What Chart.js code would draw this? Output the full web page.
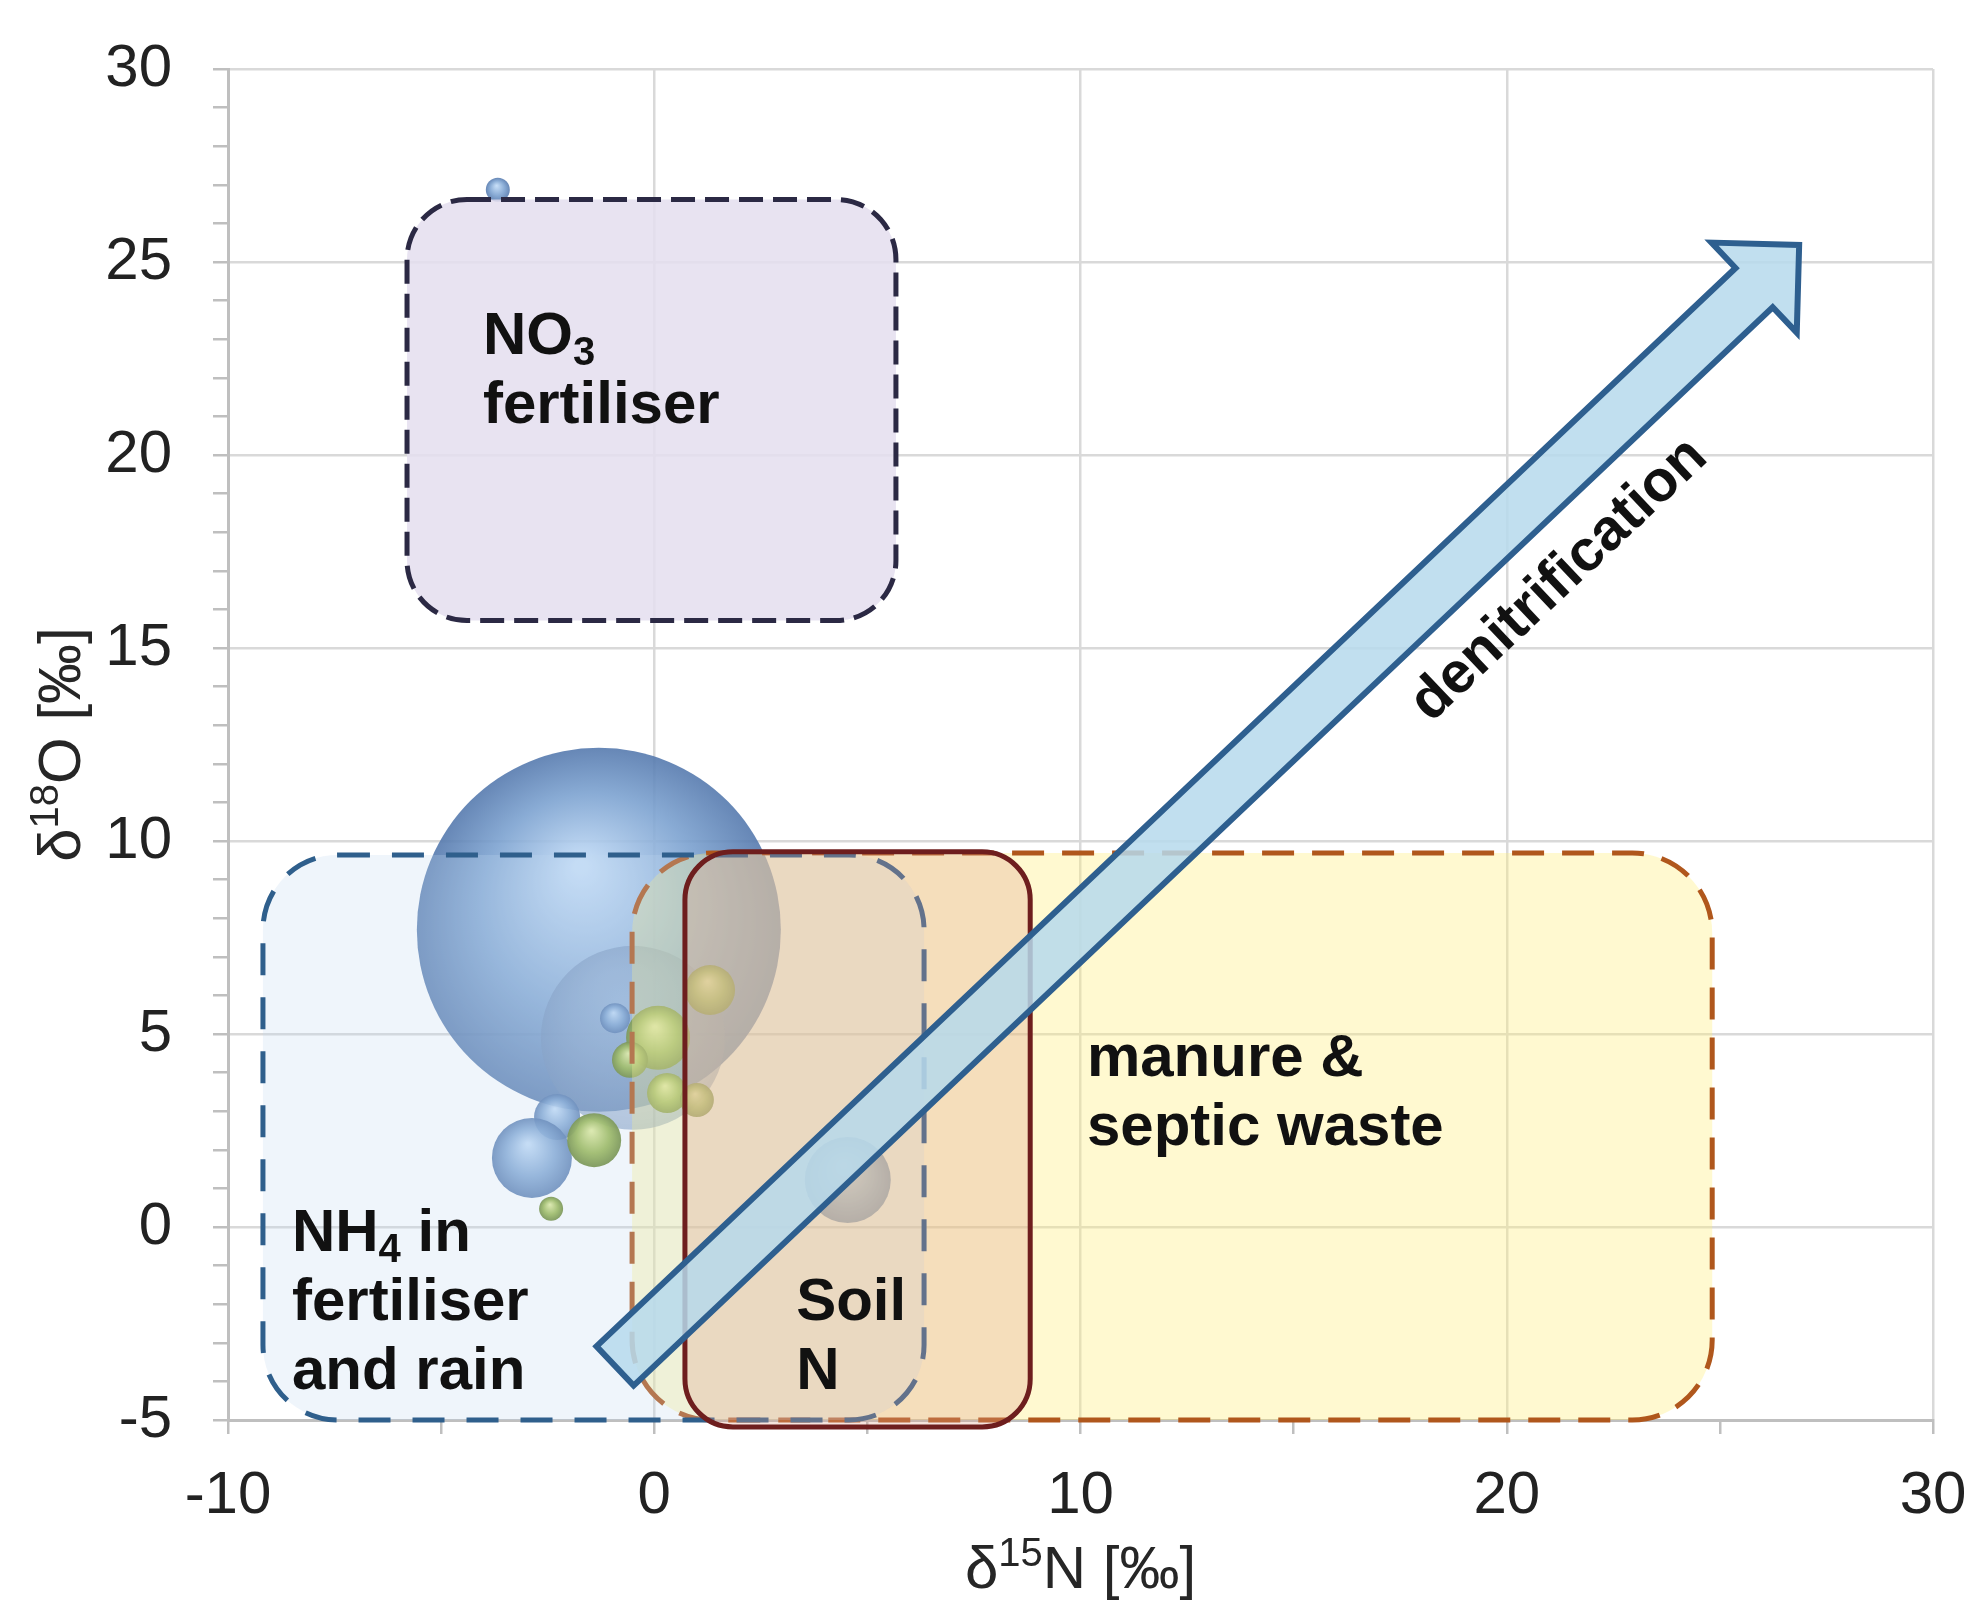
<!DOCTYPE html>
<html>
<head>
<meta charset="utf-8">
<script src="https://cdn.jsdelivr.net/npm/chart.js@4.4.1/dist/chart.umd.min.js"></script>
<style>
  html, body { margin: 0; padding: 0; background: #fff; }
  #wrap { width: 1972px; height: 1600px; }
</style>
</head>
<body>
<div id="wrap"><canvas id="myChart"></canvas></div>
<script>
const FONT = '"Liberation Sans", Arial, sans-serif';

// axis ranges
const xMin = -10, xMax = 30;
const yMin = -5, yMax = 30;

// blue bubbles (d15N, d18O, radius px)
const blueX = [-1.3, -0.5, -2.28, -2.87, -0.92, 4.54, -3.67];
const blueY = [7.7, 4.9, 2.85, 1.79, 5.41, 1.22, 26.87];
const blueR = [182, 92, 23, 40, 15, 43, 12];
const paleBlue = [1];   // the washed-out one

// green bubbles
const greenX = [-1.41, -2.42, 0.09, -0.57, 0.30, 1.31, 1.0];
const greenY = [2.25, 0.47, 4.9, 4.33, 3.47, 6.14, 3.29];
const greenR = [27, 12, 32, 18, 20, 25, 17];

// source areas (data units)
const boxNames = ['NO_3|fertiliser', 'manure &|septic waste', 'NH_4 in|fertiliser|and rain', 'Soil|N'];
const boxX1 = [-5.80, -0.52, -9.18, 0.72];
const boxX2 = [5.67, 24.82, 6.33, 8.82];
const boxY1 = [15.71, -5.0, -5.0, -5.18];
const boxY2 = [26.62, 9.69, 9.64, 9.72];

// styling of the areas, same order
const boxStyle = [
  { fill: 'rgba(228,222,238,0.85)', stroke: '#2b2944', dash: [24, 10], width: 5, radius: 60, label: [-4.02, 22.62] },
  { fill: 'rgba(255,238,120,0.35)', stroke: '#b0571c', dash: [32, 18], width: 5, radius: 80, label: [10.15, 3.91] },
  { fill: 'rgba(190,215,240,0.25)', stroke: '#2f5f8c', dash: [32, 22], width: 5, radius: 75, label: [-8.5, -0.62] },
  { fill: 'rgba(222,160,140,0.3)', stroke: '#6e1e1e', dash: [], width: 5, radius: 48, label: [3.33, -2.41] }
];

const arrowFrom = [-0.92, -3.60];
const arrowTo = [26.86, 25.44];
const arrowText = 'denitrification';
const arrowTextAt = [21.23, 16.76];

function toPoints(xs, ys, rs) {
  return xs.map((v, i) => ({ x: v, y: ys[i], r: rs[i] }));
}

function ball(stops, pale, paleIdx) {
  return function (c) {
    const s = paleIdx.includes(c.dataIndex) ? pale : stops;
    if (c.type !== 'data' || !c.raw) return s[1];
    const ch = c.chart;
    const px = ch.scales.x ? ch.scales.x.getPixelForValue(c.raw.x) : NaN;
    const py = ch.scales.y ? ch.scales.y.getPixelForValue(c.raw.y) : NaN;
    const r = c.raw.r;
    if (!isFinite(px) || !isFinite(py) || !isFinite(r)) return s[1];
    const g = ch.ctx.createRadialGradient(px - r * 0.1, py - r * 0.35, r * 0.03, px, py, r);
    g.addColorStop(0, s[0]);
    g.addColorStop(0.6, s[1]);
    g.addColorStop(1, s[2]);
    return g;
  };
}

function roundBox(ctx, x1, y1, x2, y2, r) {
  r = Math.min(r, (x2 - x1) / 2, (y2 - y1) / 2);
  ctx.beginPath();
  ctx.moveTo(x1 + r, y1);
  ctx.lineTo(x2 - r, y1);
  ctx.arcTo(x2, y1, x2, y1 + r, r);
  ctx.lineTo(x2, y2 - r);
  ctx.arcTo(x2, y2, x2 - r, y2, r);
  ctx.lineTo(x1 + r, y2);
  ctx.arcTo(x1, y2, x1, y2 - r, r);
  ctx.lineTo(x1, y1 + r);
  ctx.arcTo(x1, y1, x1 + r, y1, r);
  ctx.closePath();
}

// text with _n subscripts or ^nn superscripts
function richText(ctx, str, x, y, size, weight, align) {
  const parts = str.split(/([_^]\d+)/).filter(p => p.length);
  const big = weight + ' ' + size + 'px ' + FONT;
  const small = weight + ' ' + Math.round(size * 0.66) + 'px ' + FONT;
  let w = 0;
  parts.forEach(p => {
    const sc = p[0] === '_' || p[0] === '^';
    ctx.font = sc ? small : big;
    w += ctx.measureText(sc ? p.slice(1) : p).width;
  });
  let cx = align === 'center' ? x - w / 2 : x;
  ctx.textAlign = 'left';
  ctx.textBaseline = 'alphabetic';
  parts.forEach(p => {
    let t = p, dy = 0;
    if (p[0] === '_') { t = p.slice(1); dy = size * 0.19; ctx.font = small; }
    else if (p[0] === '^') { t = p.slice(1); dy = -size * 0.36; ctx.font = small; }
    else ctx.font = big;
    ctx.fillText(t, cx, y + dy);
    cx += ctx.measureText(t).width;
  });
}

const overlay = {
  id: 'overlay',
  afterDatasetsDraw(chart) {
    const { ctx, scales: { x, y } } = chart;
    ctx.save();
    // areas: NO3, manure, NH4, soil
    boxNames.forEach((n, i) => {
      const st = boxStyle[i];
      const x1 = x.getPixelForValue(boxX1[i]), x2 = x.getPixelForValue(boxX2[i]);
      const y1 = y.getPixelForValue(boxY2[i]), y2 = y.getPixelForValue(boxY1[i]);
      roundBox(ctx, x1, y1, x2, y2, st.radius);
      ctx.fillStyle = st.fill;
      ctx.fill();
      ctx.setLineDash(st.dash);
      ctx.lineWidth = st.width;
      ctx.strokeStyle = st.stroke;
      ctx.stroke();
    });
    ctx.setLineDash([]);

    // denitrification arrow
    const tx = x.getPixelForValue(arrowFrom[0]), ty = y.getPixelForValue(arrowFrom[1]);
    const px = x.getPixelForValue(arrowTo[0]), py = y.getPixelForValue(arrowTo[1]);
    const len = Math.hypot(px - tx, py - ty);
    const ux = (px - tx) / len, uy = (py - ty) / len;
    const nx = -uy, ny = ux;
    const w = 27, hw = 62, hl = 62;
    const kx = px - ux * hl, ky = py - uy * hl;
    ctx.beginPath();
    ctx.moveTo(tx + nx * w, ty + ny * w);
    ctx.lineTo(kx + nx * w, ky + ny * w);
    ctx.lineTo(kx + nx * hw, ky + ny * hw);
    ctx.lineTo(px, py);
    ctx.lineTo(kx - nx * hw, ky - ny * hw);
    ctx.lineTo(kx - nx * w, ky - ny * w);
    ctx.lineTo(tx - nx * w, ty - ny * w);
    ctx.closePath();
    ctx.fillStyle = 'rgba(182,217,236,0.85)';
    ctx.fill();
    ctx.lineJoin = 'miter';
    ctx.lineWidth = 6;
    ctx.strokeStyle = '#2e5f8f';
    ctx.stroke();

    // labels
    ctx.fillStyle = '#111';
    boxNames.forEach((n, i) => {
      const lx = x.getPixelForValue(boxStyle[i].label[0]);
      const ly = y.getPixelForValue(boxStyle[i].label[1]);
      n.split('|').forEach((line, k) => richText(ctx, line, lx, ly + k * 69, 60, 'bold', 'left'));
    });

    const ax = x.getPixelForValue(arrowTextAt[0]), ay = y.getPixelForValue(arrowTextAt[1]);
    ctx.save();
    ctx.translate(ax, ay);
    ctx.rotate(Math.atan2(py - ty, px - tx));
    ctx.font = 'bold 58px ' + FONT;
    ctx.textAlign = 'center';
    ctx.textBaseline = 'middle';
    ctx.fillText(arrowText, 0, 0);
    ctx.restore();
    ctx.restore();
  },
  afterDraw(chart) {
    const { ctx, chartArea } = chart;
    ctx.save();
    ctx.fillStyle = '#262626';
    richText(ctx, 'δ^15N [‰]', (chartArea.left + chartArea.right) / 2, 1588, 60, 'normal', 'center');
    ctx.translate(80, (chartArea.top + chartArea.bottom) / 2);
    ctx.rotate(-Math.PI / 2);
    richText(ctx, 'δ^18O [‰]', 0, 0, 60, 'normal', 'center');
    ctx.restore();
  }
};

const ctx = document.getElementById('myChart').getContext('2d');
window.myChart = new Chart(ctx, {
  type: 'bubble',
  data: {
    datasets: [
      {
        label: 'green',
        data: toPoints(greenX, greenY, greenR),
        backgroundColor: ball(['rgba(226,236,150,0.95)', 'rgba(150,180,70,0.95)', 'rgba(104,132,44,0.95)'], [], []),
        borderWidth: 0
      },
      {
        label: 'blue',
        data: toPoints(blueX, blueY, blueR),
        backgroundColor: ball(['rgba(192,218,246,0.9)', 'rgba(124,162,208,0.9)', 'rgba(86,122,174,0.9)'],
                              ['rgba(160,186,218,0.55)', 'rgba(140,166,202,0.55)', 'rgba(118,146,186,0.6)'], paleBlue),
        borderWidth: 0
      }
    ]
  },
  options: {
    responsive: true,
    maintainAspectRatio: false,
    animation: false,
    layout: { autoPadding: false, padding: { top: 69, right: 39, left: 0, bottom: 0 } },
    plugins: { legend: { display: false }, tooltip: { enabled: false } },
    scales: {
      x: {
        type: 'linear', min: xMin, max: xMax,
        ticks: {
          stepSize: 5, autoSkip: false, maxRotation: 0, padding: 26,
          color: '#222', font: { family: FONT, size: 60 },
          callback: v => (v % 10 === 0 ? v : '')
        },
        grid: {
          color: c => (c.tick && c.tick.value % 10 === 0) ? '#d9d9d9' : 'rgba(0,0,0,0)',
          tickColor: '#bfbfbf', tickLength: 14, lineWidth: 2.5
        },
        border: { color: '#bfbfbf', width: 3 },
        afterFit: s => { s.height = 180; s.paddingLeft = 0; s.paddingRight = 0; }
      },
      y: {
        type: 'linear', min: yMin, max: yMax,
        ticks: {
          stepSize: 1, autoSkip: false, padding: 41,
          color: '#222', font: { family: FONT, size: 60 },
          callback: v => (v % 5 === 0 ? v : '')
        },
        grid: {
          color: c => (c.tick && c.tick.value % 5 === 0) ? '#d9d9d9' : 'rgba(0,0,0,0)',
          tickColor: '#bfbfbf', tickLength: 15, lineWidth: 2.5
        },
        border: { color: '#bfbfbf', width: 3 },
        afterFit: s => { s.width = 228; s.paddingTop = 0; s.paddingBottom = 0; }
      }
    }
  },
  plugins: [overlay]
});
</script>
</body>
</html>
